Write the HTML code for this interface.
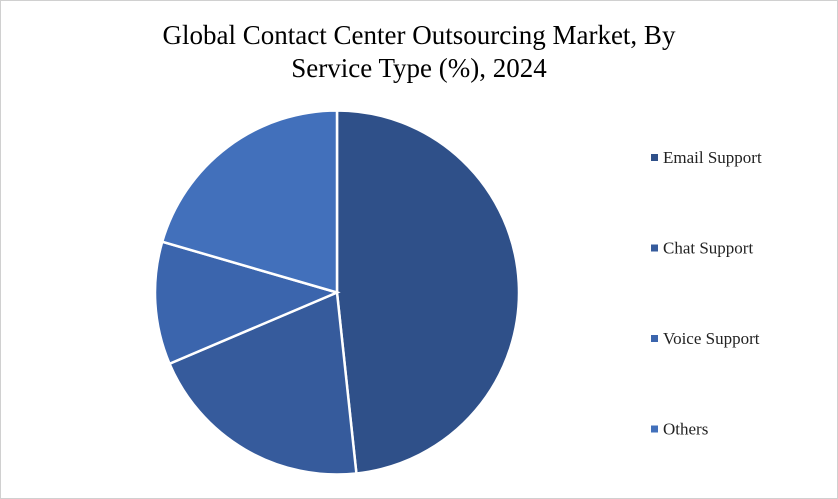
<!DOCTYPE html>
<html><head><meta charset="utf-8"><style>
body{margin:0;background:#fff;}
#c{position:relative;width:836px;height:497px;border:1px solid #d0d0d0;font-family:"Liberation Serif",serif;overflow:hidden;}
.t{position:absolute;left:0;width:836px;text-align:center;font-size:27px;color:#000;line-height:33px;}
</style></head><body>
<div id="c">
<div class="t" style="top:18px">Global Contact Center Outsourcing Market, By<br>Service Type (%), 2024</div>
<svg id="s" width="836" height="497" style="position:absolute;left:0;top:0"></svg>
</div>
<script>
const categories=["Email Support","Chat Support","Voice Support","Others"];
const values=[48.3,20.3,10.9,20.5];
const colors=["#2f5089","#365b9c","#3b65ad","#4270bb"];
const svg=document.getElementById('s');
const ns="http://www.w3.org/2000/svg";
const cx=336,cy=291.5,r=182;
const total=values.reduce((a,b)=>a+b,0);
let a0=0;
function pt(a){return [cx+r*Math.sin(a*2*Math.PI),cy-r*Math.cos(a*2*Math.PI)];}
values.forEach((v,i)=>{
 const a1=a0+v/total;
 const p0=pt(a0),p1=pt(a1);
 const large=(a1-a0)>0.5?1:0;
 const p=document.createElementNS(ns,'path');
 p.setAttribute('d',`M${cx},${cy}L${p0[0]},${p0[1]}A${r},${r} 0 ${large} 1 ${p1[0]},${p1[1]}Z`);
 p.setAttribute('fill',colors[i]);p.setAttribute('stroke','#fff');p.setAttribute('stroke-width','2.5');
 
 
 svg.appendChild(p);
 a0=a1;
});
categories.forEach((c,i)=>{
 const y=157+i*90.5;
 const g=document.createElementNS(ns,'g');
 
 
 const rc=document.createElementNS(ns,'rect');
 rc.setAttribute('x',650);rc.setAttribute('y',y-4);rc.setAttribute('width',7);rc.setAttribute('height',7);rc.setAttribute('fill',colors[i]);
 const t=document.createElementNS(ns,'text');
 t.setAttribute('x',662);t.setAttribute('y',y+5);t.setAttribute('font-size','17');t.setAttribute('font-family','Liberation Serif, serif');t.setAttribute('fill','#222');
 t.textContent=c;
 g.appendChild(rc);g.appendChild(t);svg.appendChild(g);
});
</script>
</body></html>
